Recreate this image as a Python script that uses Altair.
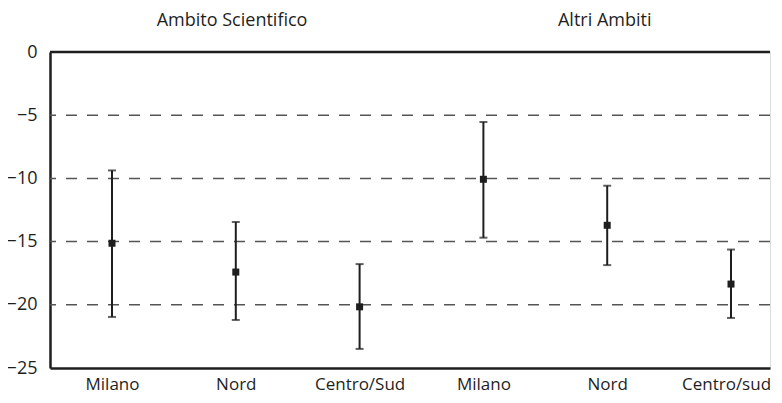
import altair as alt
import pandas as pd

categories = ["Milano", "Nord", "Centro/Sud", "Milano", "Nord", "Centro/sud"]
positions = [0, 1, 2, 3, 4, 5]
means = [-15.13, -17.41, -20.16, -10.07, -13.71, -18.36]
lows = [-20.96, -21.2, -23.49, -14.69, -16.86, -21.04]
highs = [-9.37, -13.45, -16.78, -5.54, -10.58, -15.63]

group_titles = ["Ambito Scientifico", "Altri Ambiti"]
group_title_x = [0.97, 3.98]

y_ticks = [0, -5, -10, -15, -20, -25]
grid_vals = [-5, -10, -15, -20]

df = pd.DataFrame({"cat": categories, "pos": positions, "mean": means, "low": lows, "high": highs})
titles_df = pd.DataFrame({"title": group_titles, "x": group_title_x})
grid_df = pd.DataFrame({"v": grid_vals})
top_df = pd.DataFrame({"v": [0]})

FONT = "Open Sans"
INK = "#1e1e1e"

label_expr = "[" + ",".join("'" + c + "'" for c in categories) + "][datum.value]"

xscale = alt.Scale(domain=[-0.5008, 5.315], nice=False, zero=False)
yscale = alt.Scale(domain=[-25, 0], nice=False)

x_enc = alt.X("pos:Q", scale=xscale, axis=alt.Axis(
    values=positions, labelExpr=label_expr, title=None, grid=False, ticks=False,
    domainColor=INK, domainWidth=2.5, labelFont=FONT, labelFontSize=17,
    labelColor=INK, labelPadding=8, labelAngle=0, labelFlush=False, labelOverlap=False,
    labelOffset={"condition": {"test": "datum.value == 5", "value": -5}, "value": 0}))
y_enc = alt.Y("mean:Q", scale=yscale, axis=alt.Axis(
    values=y_ticks, title=None, grid=False, ticks=False, domainColor=INK,
    domainWidth=2.5, labelFont=FONT, labelFontSize=18, labelColor=INK,
    labelPadding=13))

base = alt.Chart(df)

grid = alt.Chart(grid_df).mark_rule(color="#555555", strokeWidth=1.5, strokeDash=[11, 10]).encode(
    y=alt.Y("v:Q", scale=yscale))
top_line = alt.Chart(top_df).mark_rule(color=INK, strokeWidth=2.5).encode(
    y=alt.Y("v:Q", scale=yscale))

bars = base.mark_rule(color=INK, strokeWidth=2).encode(
    x=alt.X("pos:Q", scale=xscale), y=alt.Y("low:Q", scale=yscale), y2="high:Q")
cap_low = base.mark_tick(color=INK, orient="horizontal", size=8, thickness=2).encode(
    x=alt.X("pos:Q", scale=xscale), y=alt.Y("low:Q", scale=yscale))
cap_high = base.mark_tick(color=INK, orient="horizontal", size=8, thickness=2).encode(
    x=alt.X("pos:Q", scale=xscale), y=alt.Y("high:Q", scale=yscale))
points = base.mark_square(color=INK, size=49, opacity=1, filled=True).encode(x=x_enc, y=y_enc)

titles = alt.Chart(titles_df).mark_text(font=FONT, fontSize=18, color=INK, align="center", baseline="alphabetic").encode(
    x=alt.X("x:Q", scale=xscale), y=alt.value(-26), text="title:N")

chart = alt.layer(grid, top_line, bars, cap_low, cap_high, points, titles).properties(
    width=720, height=316,
    autosize=alt.AutoSizeParams(type="none"),
    padding={"left": 42, "top": 44, "right": 4, "bottom": 27},
).configure_view(stroke=None).configure(background="white")

chart.save("out.html", embed_options={"renderer": "svg", "actions": False})
